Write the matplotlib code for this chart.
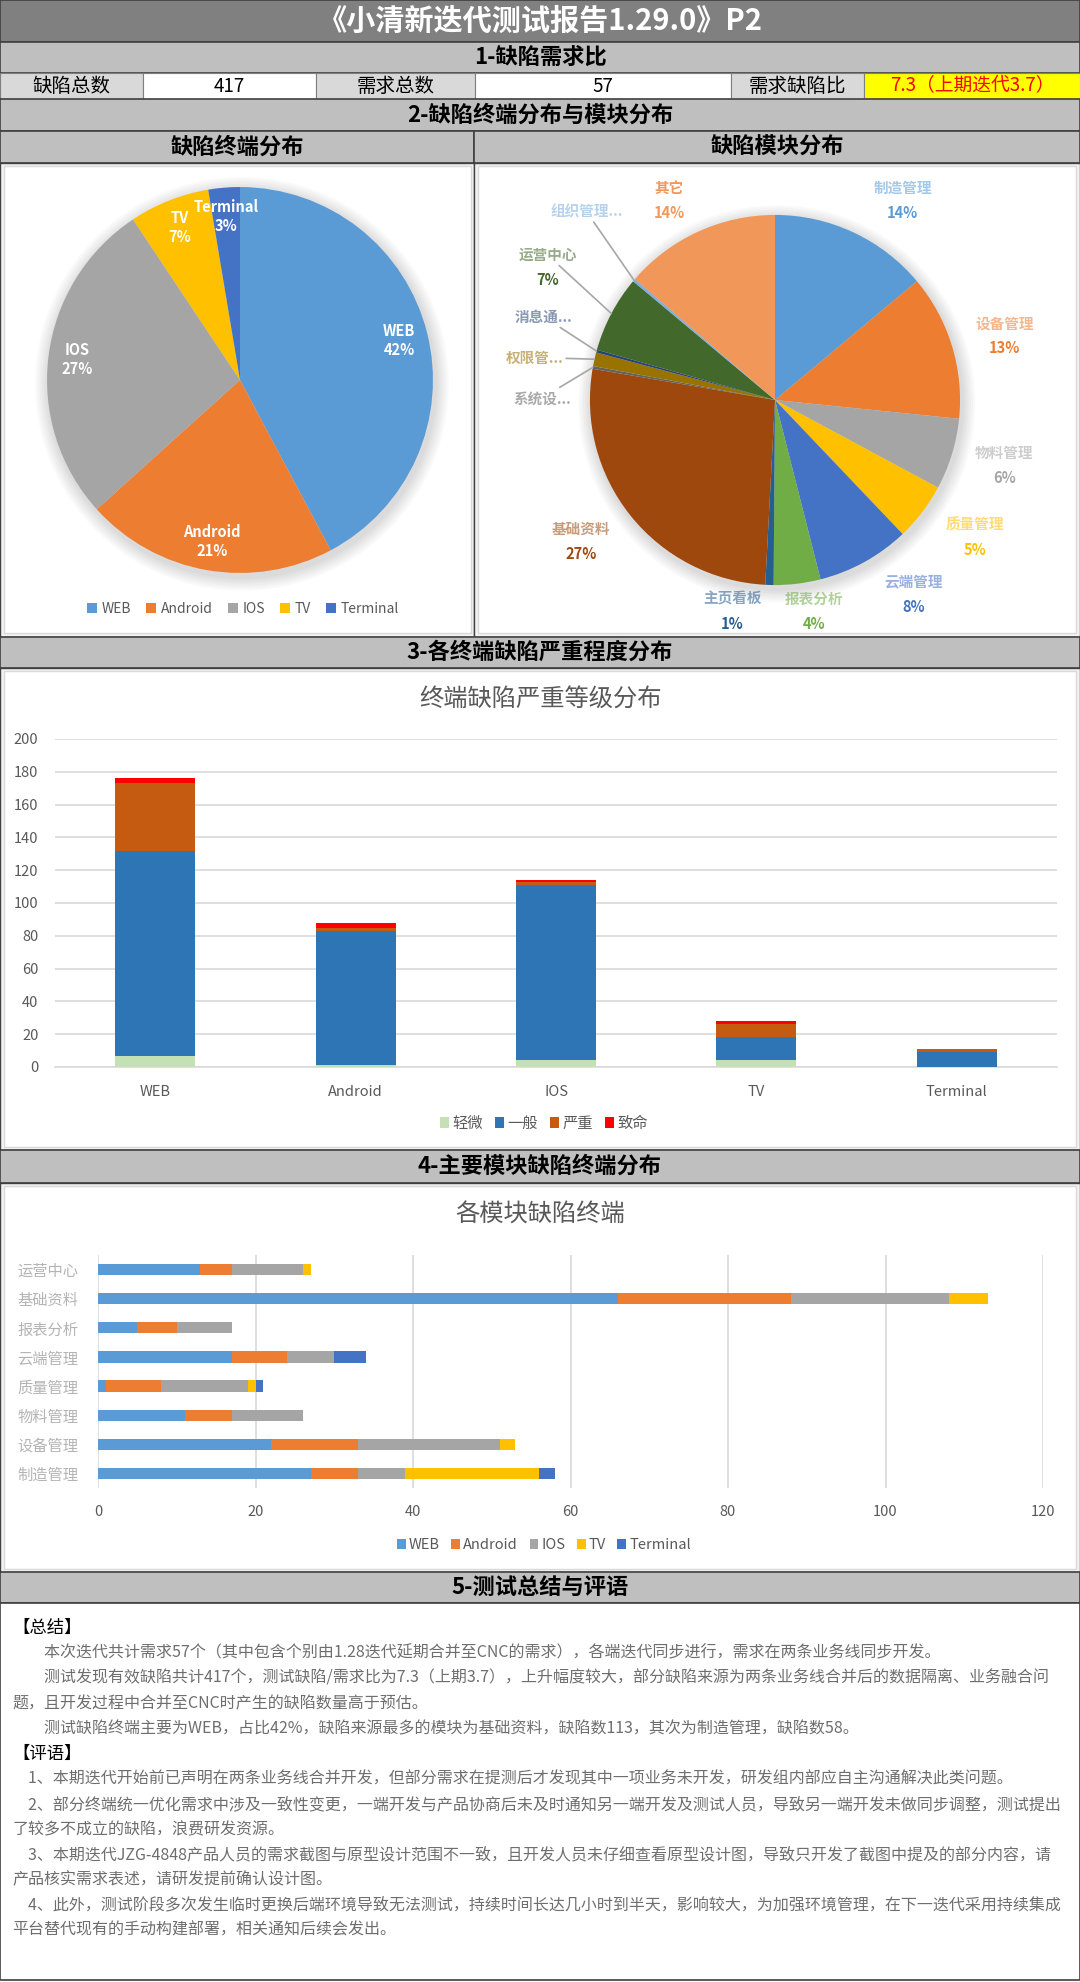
import matplotlib
matplotlib.use("Agg")
import matplotlib.pyplot as plt
from matplotlib.patches import Rectangle, Circle
from matplotlib.font_manager import FontProperties
import numpy as np

plt.rcParams['font.family'] = ['Noto Sans CJK SC', 'DejaVu Sans']

W, H = 1080, 1982

# ---------------- data ----------------
report_title = "《小清新迭代测试报告1.29.0》P2"
section_titles = ["1-缺陷需求比", "2-缺陷终端分布与模块分布", "3-各终端缺陷严重程度分布",
                  "4-主要模块缺陷终端分布", "5-测试总结与评语"]
sub_titles = ["缺陷终端分布", "缺陷模块分布"]
ratio_labels = ["缺陷总数", "需求总数", "需求缺陷比"]
ratio_values = ["417", "57", "7.3（上期迭代3.7）"]

terminals = ["WEB", "Android", "IOS", "TV", "Terminal"]
severity = ["轻微", "一般", "严重", "致命"]
sev_minor = [7, 1, 4, 4, 0]
sev_normal = [125, 82, 107, 14, 9]
sev_major = [41, 2, 2, 8, 2]
sev_fatal = [3, 3, 1, 2, 0]

pie_modules = ["制造管理", "设备管理", "物料管理", "质量管理", "云端管理", "报表分析", "主页看板",
               "基础资料", "系统设置", "权限管理", "消息通知", "运营中心", "组织管理中心", "其它"]
pie_module_counts = [58, 53, 26, 21, 34, 17, 3, 112, 1, 5, 1, 28, 1, 57]

hbar_modules = ["制造管理", "设备管理", "物料管理", "质量管理", "云端管理", "报表分析", "基础资料", "运营中心"]
hbar_web = [27, 22, 11, 1, 17, 5, 66, 13]
hbar_android = [6, 11, 6, 7, 7, 5, 22, 4]
hbar_ios = [6, 18, 9, 11, 6, 7, 20, 9]
hbar_tv = [17, 2, 0, 1, 0, 0, 5, 1]
hbar_terminal = [2, 0, 0, 1, 4, 0, 0, 0]

summary_paras = [
    "　　本次迭代共计需求57个（其中包含个别由1.28迭代延期合并至CNC的需求），各端迭代同步进行，需求在两条业务线同步开发。",
    "　　测试发现有效缺陷共计417个，测试缺陷/需求比为7.3（上期3.7），上升幅度较大，部分缺陷来源为两条业务线合并后的数据隔离、业务融合问题，且开发过程中合并至CNC时产生的缺陷数量高于预估。",
    "　　测试缺陷终端主要为WEB，占比42%，缺陷来源最多的模块为基础资料，缺陷数113，其次为制造管理，缺陷数58。",
]
comment_paras = [
    "　1、本期迭代开始前已声明在两条业务线合并开发，但部分需求在提测后才发现其中一项业务未开发，研发组内部应自主沟通解决此类问题。",
    "　2、部分终端统一优化需求中涉及一致性变更，一端开发与产品协商后未及时通知另一端开发及测试人员，导致另一端开发未做同步调整，测试提出了较多不成立的缺陷，浪费研发资源。",
    "　3、本期迭代JZG-4848产品人员的需求截图与原型设计范围不一致，且开发人员未仔细查看原型设计图，导致只开发了截图中提及的部分内容，请产品核实需求表述，请研发提前确认设计图。",
    "　4、此外，测试阶段多次发生临时更换后端环境导致无法测试，持续时间长达几小时到半天，影响较大，为加强环境管理，在下一迭代采用持续集成平台替代现有的手动构建部署，相关通知后续会发出。",
]

# ---------------- styles ----------------
term_colors = ["#5B9BD5", "#ED7D31", "#A5A5A5", "#FFC000", "#4472C4"]
sev_colors = ["#C5E0B4", "#2E75B6", "#C55A11", "#FF0000"]
module_colors = ["#5B9BD5", "#ED7D31", "#A5A5A5", "#FFC000", "#4472C4", "#70AD47", "#255E91",
                 "#9E480E", "#636363", "#997300", "#264478", "#43682B", "#7CAFDD", "#F1975A"]
# label centres of the module pie, in pie radii (Excel moved them around)
module_label_xy = [(0.69, 1.08), (1.24, 0.35), (1.24, -0.35), (1.08, -0.74), (0.75, -1.05),
                   (0.21, -1.14), (-0.23, -1.14), (-1.05, -0.76), (-1.26, 0.01), (-1.30, 0.23),
                   (-1.25, 0.45), (-1.23, 0.72), (-1.02, 1.02), (-0.57, 1.08)]
small_labels = [8, 9, 10, 12]
leader_labels = [8, 9, 10, 11, 12]
HEAD_BG = "#BFBFBF"
CELL_BG = "#D9D9D9"
LINE = "#404040"
GRID = "#D9D9D9"
AXTXT = "#595959"
NO_LINE_START = "，。、；：）》！？"

fig = plt.figure(figsize=(W / 100, H / 100), dpi=100)
bg = fig.add_axes([0, 0, 1, 1])
bg.set_xlim(0, W)
bg.set_ylim(H, 0)
bg.axis('off')


def add_ax(x0, y0, x1, y1):
    return fig.add_axes([x0 / W, 1 - y1 / H, (x1 - x0) / W, (y1 - y0) / H])


def box(x0, y0, x1, y1, fc, ec=LINE, lw=1.2, z=1):
    bg.add_patch(Rectangle((x0, y0), x1 - x0, y1 - y0, facecolor=fc, edgecolor=ec, lw=lw, zorder=z))


def header(y0, y1, text, x0=0, x1=W, size=16):
    box(x0, y0, x1, y1, HEAD_BG)
    bg.text((x0 + x1) / 2, (y0 + y1) / 2, text, ha='center', va='center', fontsize=size,
            fontweight='bold', color='black', zorder=3)


# title bar
box(0, 0, W, 42, "#808080")
bg.text(W / 2, 21, report_title, ha='center', va='center', fontsize=21, fontweight='bold',
        color='white', zorder=3)

# 1 - ratio row
header(42, 73, section_titles[0])
xs = [0, 143, 316, 475, 731, 864, W]
for i in range(3):
    box(xs[2 * i], 73, xs[2 * i + 1], 99, CELL_BG, ec="#7F7F7F", lw=0.8)
    bg.text((xs[2 * i] + xs[2 * i + 1]) / 2, 86, ratio_labels[i], ha='center', va='center',
            fontsize=14, zorder=3)
    last = i == 2
    box(xs[2 * i + 1], 73, xs[2 * i + 2], 99, "#FFFF00" if last else "white", ec="#7F7F7F", lw=0.8)
    bg.text((xs[2 * i + 1] + xs[2 * i + 2]) / 2, 86, ratio_values[i], ha='center', va='center',
            fontsize=13.5, color="#FF0000" if last else "black", zorder=3)

# 2 - pies
header(99, 131, section_titles[1])
header(131, 163, sub_titles[0], 0, 474)
header(131, 163, sub_titles[1], 474, W)
box(0, 163, 474, 637, "#F2F2F2", lw=1.0)
box(474, 163, W, 637, "#F2F2F2", lw=1.0)
box(4, 166, 471, 633, "white", ec=GRID, lw=1.0, z=2)
box(478, 166, 1076, 633, "white", ec=GRID, lw=1.0, z=2)


def soft_shadow(ax):
    for k in range(6):
        ax.add_patch(Circle((0.01, -0.02), 1.0 + 0.012 * (k + 1), color="#000000",
                            alpha=0.022, lw=0, zorder=0))


# terminal pie
term_totals = [a + b + c + d for a, b, c, d in zip(sev_minor, sev_normal, sev_major, sev_fatal)]
axp = add_ax(5, 145, 475, 615)
axp.axis('off')
soft_shadow(axp)
wedges, _ = axp.pie(term_totals, colors=term_colors, startangle=90, counterclock=False,
                    wedgeprops=dict(linewidth=0))
axp.set_xlim(-1.218, 1.218)
axp.set_ylim(-1.218, 1.218)
axp.set_aspect('equal')
tot = sum(term_totals)
for w, name, v in zip(wedges, terminals, term_totals):
    ang = np.deg2rad((w.theta1 + w.theta2) / 2)
    axp.text(0.85 * np.cos(ang), 0.85 * np.sin(ang), f"{name}\n{round(v / tot * 100)}%",
             ha='center', va='center', color='white', fontsize=10.5, fontweight='bold',
             linespacing=1.2)
axp.legend(wedges, terminals, loc='center', bbox_to_anchor=(243 / W, 1 - 609 / H),
           bbox_transform=fig.transFigure, ncol=5, frameon=False, fontsize=10,
           handlelength=0.7, handleheight=0.7, columnspacing=1.1, handletextpad=0.35,
           labelcolor=AXTXT)

# module pie
axm = add_ax(525, 150, 1025, 650)
axm.axis('off')
soft_shadow(axm)
mwedges, _ = axm.pie(pie_module_counts, colors=module_colors, startangle=90, counterclock=False,
                     wedgeprops=dict(linewidth=0))
axm.set_xlim(-1.351, 1.351)
axm.set_ylim(-1.351, 1.351)
axm.set_aspect('equal')
mtot = sum(pie_module_counts)
for i, (w, name, v) in enumerate(zip(mwedges, pie_modules, pie_module_counts)):
    col = module_colors[i]
    lx, ly = module_label_xy[i]
    ang = np.deg2rad((w.theta1 + w.theta2) / 2)
    edge = (np.cos(ang), np.sin(ang))
    pct = f"{round(v / mtot * 100)}%"
    if i in small_labels:
        short = name[:4] + "..." if i == 12 else name[:3] + "..."
        axm.annotate(short, xy=edge, xytext=(lx, ly), ha='center', va='center', fontsize=10.5,
                     fontweight='bold', color=col, alpha=0.55,
                     arrowprops=dict(arrowstyle='-', color='#A6A6A6', lw=1.2, shrinkA=0, shrinkB=0))
        continue
    name_alpha = 1.0 if name == "其它" else 0.55
    if i in leader_labels:
        axm.annotate(name, xy=edge, xytext=(lx, ly + 0.065), ha='center', va='center',
                     fontsize=10.5, fontweight='bold', color=col, alpha=name_alpha,
                     arrowprops=dict(arrowstyle='-', color='#A6A6A6', lw=1.2, shrinkA=0, shrinkB=0))
    else:
        axm.text(lx, ly + 0.065, name, ha='center', va='center', fontsize=10.5,
                 fontweight='bold', color=col, alpha=name_alpha)
    axm.text(lx, ly - 0.07, pct, ha='center', va='center', fontsize=10.5, fontweight='bold',
             color=col)

# 3 - severity stacked bars
header(637, 668, section_titles[2])
box(0, 668, W, 1150, "#F2F2F2", lw=1.0)
box(4, 671, 1076, 1147, "white", ec=GRID, lw=1.0, z=2)
bg.text(540, 700, "终端缺陷严重等级分布", ha='center', va='center', fontsize=17.5, color=AXTXT, zorder=3)
axb = add_ax(55, 739, 1057, 1067)
axb.set_facecolor('none')
x = np.arange(len(terminals))
bottom = np.zeros(len(terminals))
for vals, col, lab in zip([sev_minor, sev_normal, sev_major, sev_fatal], sev_colors, severity):
    axb.bar(x, vals, 0.4, bottom=bottom, color=col, label=lab, zorder=3)
    bottom += np.array(vals)
axb.set_xlim(-0.5, len(terminals) - 0.5)
axb.set_ylim(0, 200)
axb.set_yticks(range(0, 201, 20))
axb.set_xticks(x)
axb.set_xticklabels(terminals)
axb.grid(axis='y', color=GRID, lw=1.2, zorder=0)
for s in ['top', 'right', 'left']:
    axb.spines[s].set_visible(False)
axb.spines['bottom'].set_color(GRID)
axb.spines['bottom'].set_linewidth(1.2)
axb.tick_params(axis='both', length=0, colors=AXTXT, labelsize=10.5)
axb.tick_params(axis='x', pad=13)
axb.tick_params(axis='y', pad=12)
axb.legend(loc='center', bbox_to_anchor=(544 / W, 1 - 1123 / H), bbox_transform=fig.transFigure,
           ncol=4, frameon=False, fontsize=11, handlelength=0.6, handleheight=0.75,
           columnspacing=0.8, handletextpad=0.2, labelcolor=AXTXT)

# 4 - module by terminal horizontal bars
header(1150, 1183, section_titles[3])
box(0, 1183, W, 1572, "#F2F2F2", lw=1.0)
box(4, 1186, 1076, 1569, "white", ec=GRID, lw=1.0, z=2)
bg.text(540, 1215, "各模块缺陷终端", ha='center', va='center', fontsize=17.5, color=AXTXT, zorder=3)
axh = add_ax(98, 1255, 1043, 1488)
axh.set_facecolor('none')
y = np.arange(len(hbar_modules))
left = np.zeros(len(hbar_modules))
for vals, col, lab in zip([hbar_web, hbar_android, hbar_ios, hbar_tv, hbar_terminal],
                          term_colors, terminals):
    axh.barh(y, vals, 0.39, left=left, color=col, label=lab, zorder=3)
    left += np.array(vals)
axh.set_xlim(0, 120)
axh.set_ylim(-0.5, len(hbar_modules) - 0.5)
axh.set_xticks(range(0, 121, 20))
axh.set_yticks(y)
axh.set_yticklabels(hbar_modules)
for t in axh.get_yticklabels():
    t.set_alpha(0.45)
axh.grid(axis='x', color=GRID, lw=1.2, zorder=0)
for s in ['top', 'right', 'left', 'bottom']:
    axh.spines[s].set_visible(False)
axh.tick_params(axis='both', length=0, colors=AXTXT, labelsize=10.5)
axh.tick_params(axis='x', pad=12)
axh.tick_params(axis='y', pad=14, labelsize=11)
axh.legend(loc='center', bbox_to_anchor=(544 / W, 1 - 1545 / H), bbox_transform=fig.transFigure,
           ncol=5, frameon=False, fontsize=10.5, handlelength=0.6, handleheight=0.75,
           columnspacing=0.8, handletextpad=0.2, labelcolor=AXTXT)

# 5 - summary text
header(1572, 1603, section_titles[4])
box(0, 1603, W, 1980, "white", lw=1.2)
renderer = fig.canvas.get_renderer()
body_size = 11.5
prop = FontProperties(family=['Noto Sans CJK SC', 'DejaVu Sans'], size=body_size)


def wrap(text, width):
    # naive char wrap, keeps closing punctuation off the start of a line
    lines, cur = [], ""
    for ch in text:
        tw = renderer.get_text_width_height_descent(cur + ch, prop, ismath=False)[0]
        if tw > width and cur and ch not in NO_LINE_START:
            lines.append(cur)
            cur = ch
        else:
            cur += ch
    lines.append(cur)
    return lines


rows = [("【总结】", True)]
for p in summary_paras:
    rows += [(ln, False) for ln in wrap(p, 1050)]
rows.append(("【评语】", True))
for p in comment_paras:
    rows += [(ln, False) for ln in wrap(p, 1050)]
ypos = 1628
for ln, is_head in rows:
    bg.text(12, ypos, ln, ha='left', va='center', fontsize=12.5 if is_head else body_size,
            color='black' if is_head else '#6E6E6E', zorder=3)
    ypos += 25.2

fig.savefig("out.png", dpi=100)
